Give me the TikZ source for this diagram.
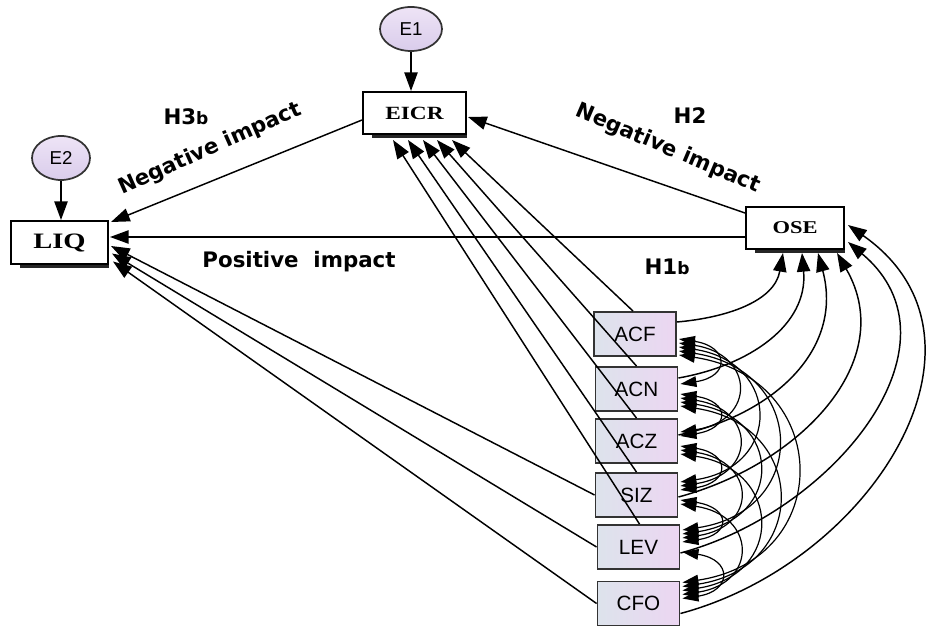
\documentclass[tikz,border=0pt]{standalone}
\usepackage{fontspec}
\setmainfont{Liberation Serif}
\setsansfont{Liberation Sans}
\newfontfamily\lblfont{DejaVu Sans}
\usetikzlibrary{arrows.meta,calc,shapes.geometric}
\definecolor{boxL}{HTML}{DDE3EC}
\definecolor{boxR}{HTML}{ECD6F2}
\definecolor{ellT}{HTML}{EEE4F6}
\definecolor{ellB}{HTML}{D9CCEB}
\begin{document}
\begin{tikzpicture}[x=0.75pt,y=-0.75pt,
  arr/.style={draw=black, line width=1.1pt, -{Triangle[length=14pt,width=10pt]}},
  cov/.style={draw=black, line width=0.9pt, {Triangle[length=12pt,width=8pt]}-{Triangle[length=12pt,width=8pt]}},
  mainbox/.style={draw=black, line width=1.5pt, fill=white, inner sep=0pt},
  varbox/.style={draw=black!80, line width=1.4pt, left color=boxL, right color=boxR, inner sep=0pt,
    minimum width=61.5pt, minimum height=33pt, font=\sffamily\fontsize{15.5}{17}\selectfont},
  errell/.style={ellipse, draw=black!80, line width=1.3pt, top color=ellT, bottom color=ellB, inner sep=0pt,
    minimum width=46.5pt, minimum height=33pt, font=\sffamily\fontsize{14}{16}\selectfont},
  lbl/.style={font=\lblfont\bfseries\fontsize{16}{18}\selectfont, inner sep=0pt},
  shadowbar/.style={fill=black!85}
]
\useasboundingbox (0,0) rectangle (930,627);

% main nodes
\node[errell] (E1) at (411,29) {E1};
\node[mainbox, minimum width=77.25pt, minimum height=31.5pt] (EICR) at (414.5,113)
  {\scalebox{1.25}[1]{\bfseries\fontsize{14}{15}\selectfont EICR}};
\node[errell, minimum width=43.5pt] (E2) at (61,158) {E2};
\node[mainbox, minimum width=72.75pt, minimum height=32.25pt] (LIQ) at (59.5,242.5)
  {\scalebox{1.3}[1]{\bfseries\fontsize{16.5}{18}\selectfont LIQ}};
\node[mainbox, minimum width=73.5pt, minimum height=31.5pt] (OSE) at (795,228)
  {\scalebox{1.25}[1]{\bfseries\fontsize{13.5}{15}\selectfont OSE}};

\fill[shadowbar] ($(EICR.south west)+(10,0)$) rectangle ($(EICR.south east)+(0,3)$);
\fill[shadowbar] ($(LIQ.south west)+(10,0)$) rectangle ($(LIQ.south east)+(0,3)$);
\fill[shadowbar] ($(OSE.south west)+(10,0)$) rectangle ($(OSE.south east)+(0,3)$);

% exogenous boxes
\node[varbox] (ACF) at (635,334) {ACF};
\node[varbox] (ACN) at (636.5,389) {ACN};
\node[varbox] (ACZ) at (636.5,441) {ACZ};
\node[varbox] (SIZ) at (636.5,495) {SIZ};
\node[varbox] (LEV) at (638.5,547) {LEV};
\node[varbox] (CFO) at (638.5,603.5) {CFO};

% labels
\node[lbl] (h3b) at (186,117) {H3\scalebox{0.8}{b}};
\node[lbl, rotate=24] (n1) at (210,149) {Negative impact};
\node[lbl] (h2) at (690,116) {H2};
\node[lbl, rotate=-23] (n2) at (668,149) {Negative impact};
\node[lbl] (pos) at (299,262) {Positive\ \ impact};
\node[lbl] (h1b) at (667,267) {H1\scalebox{0.8}{b}};

% error arrows
\draw[arr] (E1.south) -- (E1.south |- EICR.north);
\draw[arr] (E2.south) -- (E2.south |- LIQ.north);

% structural paths
\draw[arr] ($(EICR.west)+(0,7)$) -- ($(LIQ.north east)+(2,2)$);
\draw[arr] ($(OSE.west)+(0,-15)$) -- ($(EICR.east)+(1,4)$);
\draw[arr] ($(OSE.west)+(0,9)$) -- ($(LIQ.east)+(1,-5.5)$);

% to EICR
\draw[arr] ($(ACF.north)+(-2,0)$) -- ($(EICR.south)+(37.5,5)$);
\draw[arr] (ACN.north) -- ($(EICR.south)+(22.5,5)$);
\draw[arr] (ACZ.north) -- ($(EICR.south)+(8.5,5)$);
\draw[arr] (SIZ.north) -- ($(EICR.south)+(-6.5,5)$);
\draw[arr] ($(LEV.north)+(1,0)$) -- ($(EICR.south)+(-21.5,5)$);

% to LIQ
\draw[arr] (SIZ.west) -- ($(LIQ.east)+(2,3.5)$);
\draw[arr] (LEV.west) -- ($(LIQ.east)+(3,11)$);
\draw[arr] (CFO.west) -- ($(LIQ.east)+(4,19)$);

% to OSE
\draw[arr] ($(ACF.east)+(0,-12)$) to[out=5,in=-100,looseness=1] ($(OSE.south)+(-12,3)$);
\draw[arr] ($(ACN.east)+(0,-11)$) to[out=10,in=-85,looseness=1.05] ($(OSE.south)+(7,3)$);
\draw[arr] ($(ACZ.east)+(0,-6)$) to[out=12,in=-75,looseness=1.1] ($(OSE.south)+(23,3)$);
\draw[arr] ($(SIZ.east)+(0,2)$) to[out=15,in=-60,looseness=1.1] ($(OSE.south)+(42,3)$);
\draw[arr] ($(LEV.east)+(0,6)$) to[out=15,in=-40,looseness=1.15] ($(OSE.east)+(3,14)$);
\draw[arr] ($(CFO.east)+(0,10)$) to[out=15,in=-35,looseness=1.2] ($(OSE.east)+(3,-3)$);

% covariances
\foreach \i/\a in {0/ACF,1/ACN,2/ACZ,3/SIZ,4/LEV}{
  \foreach \j/\b in {1/ACN,2/ACZ,3/SIZ,4/LEV,5/CFO}{
    \ifnum\j>\i
      \pgfmathsetmacro\dd{\j-\i}
      \pgfmathsetmacro\cc{24+26*\dd}
      \pgfmathsetmacro\cy{0.15*\cc}
      \draw[cov] ($(\a.east)+(2,{1+4*\dd})$) .. controls +(\cc,\cy) and +(\cc,-\cy) .. ($(\b.east)+(2,{-1-4*\dd})$);
    \fi
  }
}
\end{tikzpicture}
\end{document}
